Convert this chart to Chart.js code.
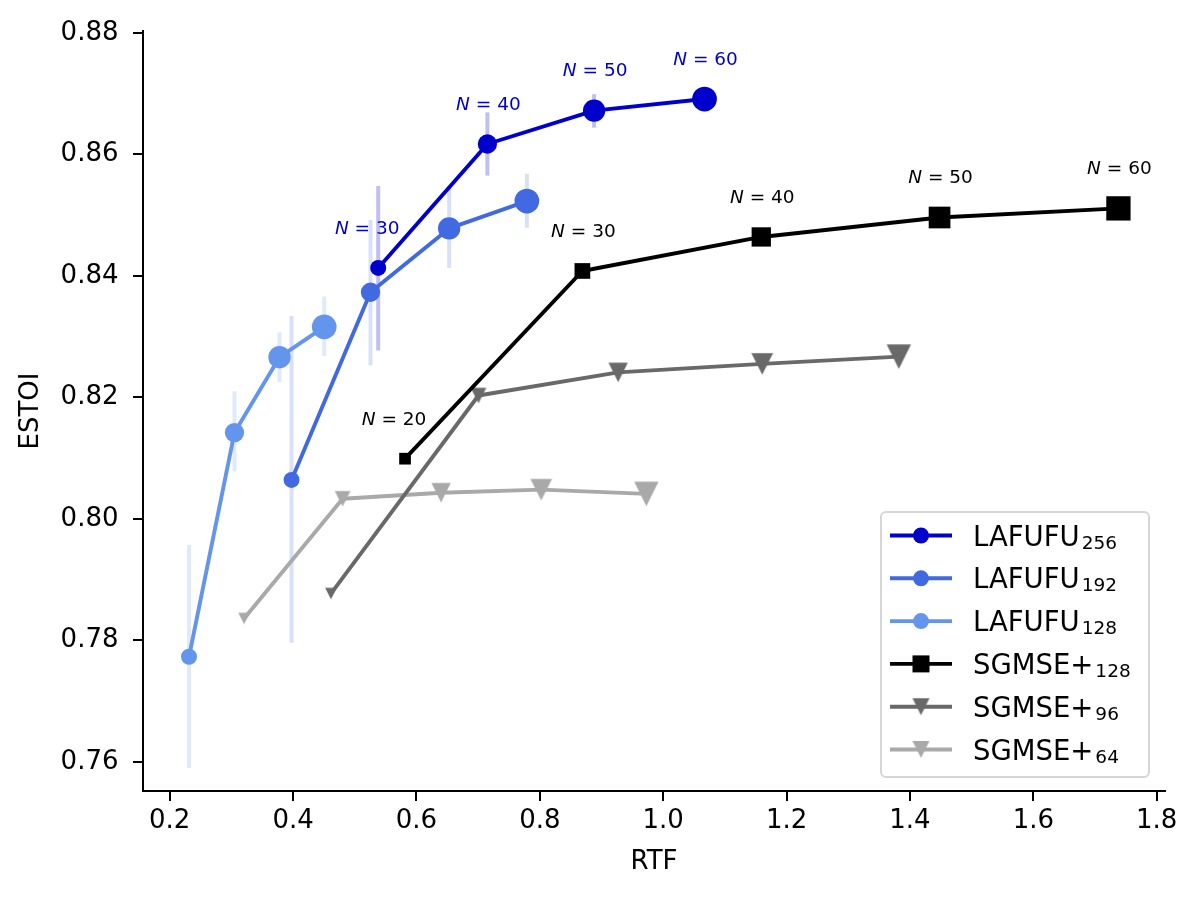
<!DOCTYPE html>
<html><head><meta charset="utf-8">
<script src="https://cdn.jsdelivr.net/npm/chart.js@4.4.0/dist/chart.umd.min.js"></script>
<style>html,body{margin:0;padding:0;background:#fff;}</style>
</head><body>
<canvas id="c" width="1200" height="900"></canvas>
<script>
// ---------- data ----------
const seriesNames = ['LAFUFU', 'LAFUFU', 'LAFUFU', 'SGMSE+', 'SGMSE+', 'SGMSE+'];
const seriesSubs  = ['256', '192', '128', '128', '96', '64'];

const lafufu256_N     = [30, 40, 50, 60];
const lafufu256_rtf   = [0.538, 0.715, 0.888, 1.067];
const lafufu256_estoi = [0.8413, 0.8617, 0.8672, 0.8691];
const lafufu256_errLo = [0.8277, 0.8565, 0.8644, null];
const lafufu256_errHi = [0.8548, 0.8669, 0.8699, null];

const lafufu192_rtf   = [0.3975, 0.5255, 0.653, 0.779];
const lafufu192_estoi = [0.8064, 0.8373, 0.8478, 0.8523];
const lafufu192_errLo = [0.7796, 0.8253, 0.8413, 0.8479];
const lafufu192_errHi = [0.8334, 0.8492, 0.8545, 0.8568];

const lafufu128_rtf   = [0.2313, 0.305, 0.378, 0.4505];
const lafufu128_estoi = [0.7773, 0.8142, 0.8266, 0.8316];
const lafufu128_errLo = [0.7590, 0.8078, 0.8225, 0.8268];
const lafufu128_errHi = [0.7957, 0.8210, 0.8307, 0.8366];

const sgmse128_N     = [20, 30, 40, 50, 60];
const sgmse128_rtf   = [0.5815, 0.869, 1.159, 1.448, 1.738];
const sgmse128_estoi = [0.8099, 0.8408, 0.8464, 0.8496, 0.8511];

const sgmse96_rtf    = [0.4614, 0.7005, 0.927, 1.1605, 1.382];
const sgmse96_estoi  = [0.7877, 0.8203, 0.8241, 0.8255, 0.8267];

const sgmse64_rtf    = [0.3206, 0.4803, 0.640, 0.8023, 0.9727];
const sgmse64_estoi  = [0.7836, 0.8033, 0.8043, 0.8048, 0.8041];

const xTicks = [0.2, 0.4, 0.6, 0.8, 1.0, 1.2, 1.4, 1.6, 1.8];
const yTicks = [0.76, 0.78, 0.80, 0.82, 0.84, 0.86, 0.88];

// ---------- styles ----------
const FONT = '"DejaVu Sans", "Liberation Sans", sans-serif';
const C256 = '#0000CD', C192 = '#4169E1', C128 = '#6495ED';
const CS128 = '#000000', CS96 = '#696969', CS64 = '#A9A9A9';
const LW = 3.9;
const size4 = [16, 19.3, 22.3, 24.7];
const size5 = [11.7, 15.7, 19.3, 21.7, 24.3];

function triCanvas(s, color) {
  const w = Math.ceil(s) + 4;
  const cv = document.createElement('canvas');
  cv.width = w; cv.height = w;
  const g = cv.getContext('2d');
  const c = w / 2;
  g.fillStyle = color;
  g.beginPath();
  g.moveTo(c - s / 2, c - s / 2);
  g.lineTo(c + s / 2, c - s / 2);
  g.lineTo(c, c + s / 2);
  g.closePath();
  g.fill();
  return cv;
}

function pts(xs, ys) { return xs.map((x, i) => ({x: x, y: ys[i]})); }

function baseSet(label, xs, ys, color, order) {
  return {
    label, data: pts(xs, ys), showLine: true, borderColor: color, backgroundColor: color,
    borderWidth: LW, borderJoinStyle: 'round', tension: 0, order,
    pointBackgroundColor: color, pointBorderWidth: 0
  };
}
function circleSet(label, xs, ys, color, order) {
  const d = baseSet(label, xs, ys, color, order);
  d.pointStyle = 'circle';
  d.pointRadius = size4.slice(0, xs.length).map(v => v / 2);
  return d;
}
function squareSet(label, xs, ys, color, order) {
  const d = baseSet(label, xs, ys, color, order);
  d.pointStyle = 'rect';
  d.pointRadius = size5.map(v => v / Math.SQRT2);
  return d;
}
function triSet(label, xs, ys, color, order) {
  const d = baseSet(label, xs, ys, color, order);
  d.pointStyle = size5.map(v => triCanvas(v, color));
  d.pointRadius = size5.map(v => v / 2);
  return d;
}

const datasets = [
  circleSet(seriesNames[0] + seriesSubs[0], lafufu256_rtf, lafufu256_estoi, C256, 0),
  circleSet(seriesNames[1] + seriesSubs[1], lafufu192_rtf, lafufu192_estoi, C192, 1),
  circleSet(seriesNames[2] + seriesSubs[2], lafufu128_rtf, lafufu128_estoi, C128, 2),
  squareSet(seriesNames[3] + seriesSubs[3], sgmse128_rtf, sgmse128_estoi, CS128, 3),
  triSet(seriesNames[4] + seriesSubs[4], sgmse96_rtf, sgmse96_estoi, CS96, 4),
  triSet(seriesNames[5] + seriesSubs[5], sgmse64_rtf, sgmse64_estoi, CS64, 5)
];

const errSeries = [
  {rtf: lafufu128_rtf, lo: lafufu128_errLo, hi: lafufu128_errHi, color: 'rgba(100,149,237,0.2)'},
  {rtf: lafufu192_rtf, lo: lafufu192_errLo, hi: lafufu192_errHi, color: 'rgba(65,105,225,0.2)'},
  {rtf: lafufu256_rtf, lo: lafufu256_errLo, hi: lafufu256_errHi, color: 'rgba(0,0,205,0.25)'}
];

const errorBarPlugin = {
  id: 'errbars',
  beforeDatasetsDraw(chart) {
    const {ctx, chartArea: a, scales: {x, y}} = chart;
    ctx.save();
    ctx.beginPath(); ctx.rect(a.left, a.top, a.right - a.left, a.bottom - a.top); ctx.clip();
    ctx.lineWidth = 4; ctx.lineCap = 'butt';
    errSeries.forEach(s => {
      ctx.strokeStyle = s.color;
      s.rtf.forEach((v, i) => {
        if (s.lo[i] == null) return;
        const px = x.getPixelForValue(v);
        ctx.beginPath();
        ctx.moveTo(px, y.getPixelForValue(s.lo[i]));
        ctx.lineTo(px, y.getPixelForValue(s.hi[i]));
        ctx.stroke();
      });
    });
    ctx.restore();
  }
};

const annotSeries = [
  {rtf: lafufu256_rtf, estoi: lafufu256_estoi, N: lafufu256_N, color: C256},
  {rtf: sgmse128_rtf, estoi: sgmse128_estoi, N: sgmse128_N, color: '#000000'}
];
const annotPlugin = {
  id: 'annot',
  afterDatasetsDraw(chart) {
    const {ctx, scales: {x, y}} = chart;
    const fs = 18.5;
    ctx.save();
    ctx.textBaseline = 'middle'; ctx.textAlign = 'left';
    annotSeries.forEach(s => {
      ctx.fillStyle = s.color;
      s.rtf.forEach((v, i) => {
        const cx = x.getPixelForValue(v) + (i === 0 ? -11 : 1);
        const cy = y.getPixelForValue(s.estoi[i]) - 39;
        const rest = ' = ' + s.N[i];
        ctx.font = 'italic ' + fs + 'px ' + FONT;
        const wN = ctx.measureText('N').width;
        ctx.font = fs + 'px ' + FONT;
        const wR = ctx.measureText(rest).width;
        const x0 = cx - (wN + wR) / 2;
        ctx.font = 'italic ' + fs + 'px ' + FONT;
        ctx.fillText('N', x0, cy);
        ctx.font = fs + 'px ' + FONT;
        ctx.fillText(rest, x0 + wN, cy);
      });
    });
    ctx.restore();
  }
};

const legendPlugin = {
  id: 'customLegend',
  afterDraw(chart) {
    const ctx = chart.ctx;
    ctx.save();
    const bx = 881, by = 512, bw = 268, bh = 265, r = 5;
    ctx.beginPath();
    ctx.moveTo(bx + r, by); ctx.lineTo(bx + bw - r, by); ctx.arcTo(bx + bw, by, bx + bw, by + r, r);
    ctx.lineTo(bx + bw, by + bh - r); ctx.arcTo(bx + bw, by + bh, bx + bw - r, by + bh, r);
    ctx.lineTo(bx + r, by + bh); ctx.arcTo(bx, by + bh, bx, by + bh - r, r);
    ctx.lineTo(bx, by + r); ctx.arcTo(bx, by, bx + r, by, r);
    ctx.closePath();
    ctx.fillStyle = 'rgba(255,255,255,0.8)'; ctx.fill();
    ctx.strokeStyle = '#d6d6d6'; ctx.lineWidth = 2; ctx.stroke();
    chart.data.datasets.forEach((ds, i) => {
      const yy = 535.5 + i * 42.8;
      const col = ds.borderColor;
      ctx.strokeStyle = col; ctx.lineWidth = LW;
      ctx.beginPath(); ctx.moveTo(890, yy); ctx.lineTo(952, yy); ctx.stroke();
      ctx.fillStyle = col;
      const mx = 921;
      if (ds.pointStyle === 'circle') {
        ctx.beginPath(); ctx.arc(mx, yy, 8, 0, Math.PI * 2); ctx.fill();
      } else if (ds.pointStyle === 'rect') {
        ctx.fillRect(mx - 8.5, yy - 8.5, 17, 17);
      } else {
        const t = triCanvas(17, col);
        ctx.drawImage(t, mx - t.width / 2, yy - t.height / 2);
      }
      ctx.fillStyle = '#000';
      ctx.textBaseline = 'alphabetic'; ctx.textAlign = 'left';
      ctx.font = '27.5px ' + FONT;
      ctx.fillText(seriesNames[i], 973, yy + 10);
      const w = ctx.measureText(seriesNames[i]).width;
      ctx.font = '18.5px ' + FONT;
      ctx.fillText(seriesSubs[i], 973 + w + 2, yy + 13);
    });
    ctx.restore();
  }
};

new Chart(document.getElementById('c').getContext('2d'), {
  type: 'scatter',
  data: {datasets},
  options: {
    responsive: false, animation: false, events: [],
    layout: {padding: {top: 31, right: 35, bottom: 0, left: 0}},
    plugins: {legend: {display: false}, tooltip: {enabled: false}},
    scales: {
      x: {
        type: 'linear', min: 0.1567, max: 1.8135,
        afterFit: s => { s.height = 109; },
        afterBuildTicks: s => { s.ticks = xTicks.map(v => ({value: v})); },
        ticks: {callback: v => Number(v).toFixed(1), font: {family: FONT, size: 26}, color: '#000', padding: 5, maxRotation: 0, autoSkip: false},
        grid: {display: true, drawOnChartArea: false, drawTicks: true, tickLength: 10, color: '#000', lineWidth: 2},
        border: {display: true, color: '#000', width: 2},
        title: {display: true, text: 'RTF', font: {family: FONT, size: 26}, color: '#000', padding: {top: 0, bottom: 22}}
      },
      y: {
        type: 'linear', min: 0.7552, max: 0.8803,
        afterFit: s => { s.width = 143; },
        afterBuildTicks: s => { s.ticks = yTicks.map(v => ({value: v})); },
        ticks: {callback: v => Number(v).toFixed(2), font: {family: FONT, size: 26}, color: '#000', padding: 14.5, autoSkip: false},
        grid: {display: true, drawOnChartArea: false, drawTicks: true, tickLength: 10, color: '#000', lineWidth: 2},
        border: {display: true, color: '#000', width: 2},
        title: {display: true, text: 'ESTOI', font: {family: FONT, size: 26}, color: '#000', padding: {top: 16, bottom: 0}}
      }
    }
  },
  plugins: [errorBarPlugin, annotPlugin, legendPlugin]
});
</script>
</body></html>
